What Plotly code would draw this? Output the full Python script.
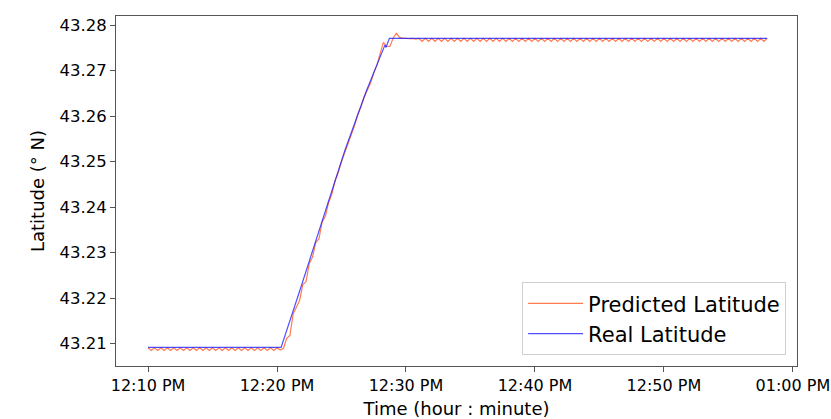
import plotly.graph_objects as go
import pandas as pd

# real latitude, piecewise breakpoints (time, deg N)
real_time = ["2023-01-01 12:10:00", "2023-01-01 12:20:19", "2023-01-01 12:21:47",
             "2023-01-01 12:24:20", "2023-01-01 12:25:16", "2023-01-01 12:26:57",
             "2023-01-01 12:28:22", "2023-01-01 12:28:27", "2023-01-01 12:28:43",
             "2023-01-01 12:58:00"]
real_lat = [43.2092, 43.2092, 43.2218, 43.2444, 43.2525, 43.2657,
            43.2756, 43.2751, 43.2771, 43.2771]

# predicted latitude, one value every 15 s from 12:10:00
pred_lat = [
    43.2091, 43.2085, 43.2091, 43.2085, 43.2091, 43.2085, 43.2091, 43.2085, 43.2091, 43.2085,
    43.2091, 43.2085, 43.2091, 43.2085, 43.2091, 43.2085, 43.2091, 43.2085, 43.2091, 43.2085,
    43.2091, 43.2085, 43.2091, 43.2085, 43.2091, 43.2085, 43.2091, 43.2085, 43.2091, 43.2085,
    43.2091, 43.2085, 43.2091, 43.2085, 43.2091, 43.2085, 43.2091, 43.2085, 43.2091, 43.2085,
    43.2091, 43.2086,
    43.2090, 43.2112, 43.2118, 43.2165, 43.2180, 43.2195, 43.2230, 43.2236, 43.2276, 43.2290,
    43.2322, 43.2330, 43.2368, 43.2380, 43.2410, 43.2428, 43.2458, 43.2476, 43.2500, 43.2520,
    43.2540, 43.2562, 43.2578, 43.2603, 43.2620, 43.2642, 43.2656, 43.2672, 43.2695, 43.2712,
    43.2738, 43.2762, 43.2753, 43.2753, 43.2771, 43.2782, 43.2773, 43.2771,
    43.2771, 43.2770, 43.2771, 43.2769, 43.2771, 43.2764, 43.2771, 43.2764, 43.2771, 43.2764,
    43.2771, 43.2764, 43.2771, 43.2764, 43.2771, 43.2764, 43.2771, 43.2764, 43.2771, 43.2764,
    43.2771, 43.2764, 43.2771, 43.2764, 43.2771, 43.2764, 43.2771, 43.2764, 43.2771, 43.2764,
    43.2771, 43.2764, 43.2771, 43.2764, 43.2771, 43.2764, 43.2771, 43.2764, 43.2771, 43.2764,
    43.2771, 43.2764, 43.2771, 43.2764, 43.2771, 43.2764, 43.2771, 43.2764, 43.2771, 43.2764,
    43.2771, 43.2764, 43.2771, 43.2764, 43.2771, 43.2764, 43.2771, 43.2764, 43.2771, 43.2764,
    43.2771, 43.2764, 43.2771, 43.2764, 43.2771, 43.2764, 43.2771, 43.2764, 43.2771, 43.2764,
    43.2771, 43.2764, 43.2771, 43.2764, 43.2771, 43.2764, 43.2771, 43.2764, 43.2771, 43.2764,
    43.2771, 43.2764, 43.2771, 43.2764, 43.2771, 43.2764, 43.2771, 43.2764, 43.2771, 43.2764,
    43.2771, 43.2764, 43.2771, 43.2764, 43.2771, 43.2764, 43.2771, 43.2764, 43.2771, 43.2764,
    43.2771, 43.2764, 43.2771, 43.2764, 43.2771, 43.2764, 43.2771, 43.2764, 43.2771, 43.2764,
    43.2771, 43.2764, 43.2771,
]
pred_time = pd.date_range("2023-01-01 12:10:00", periods=len(pred_lat), freq="15s")

x_ticks = ["2023-01-01 12:10", "2023-01-01 12:20", "2023-01-01 12:30",
           "2023-01-01 12:40", "2023-01-01 12:50", "2023-01-01 13:00"]
x_tick_text = ["12:10 PM", "12:20 PM", "12:30 PM", "12:40 PM", "12:50 PM", "01:00 PM"]
y_ticks = [43.21, 43.22, 43.23, 43.24, 43.25, 43.26, 43.27, 43.28]

fig = go.Figure()
fig.add_trace(go.Scatter(x=pred_time, y=pred_lat, mode="lines", name="Predicted Latitude",
                         line=dict(color="rgba(255,100,50,0.85)", width=1.2)))
fig.add_trace(go.Scatter(x=real_time, y=real_lat, mode="lines", name="Real Latitude",
                         line=dict(color="rgba(20,20,255,0.75)", width=1.2)))

axis_common = dict(showgrid=False, zeroline=False, showline=True, linecolor="#555",
                   linewidth=1, mirror=True, ticks="outside", ticklen=5, tickcolor="#555",
                   automargin=False, ticklabeloverflow="allow")

fig.update_layout(
    width=831, height=419,
    margin=dict(l=116, r=34, t=16, b=53),
    plot_bgcolor="white", paper_bgcolor="white",
    font=dict(family="DejaVu Sans", color="black"),
    xaxis=dict(axis_common, range=["2023-01-01 12:07:31", "2023-01-01 13:00:19"],
               tickvals=x_ticks, ticktext=x_tick_text, tickfont=dict(size=16),
               title=dict(text="Time (hour : minute)", font=dict(size=18), standoff=8)),
    yaxis=dict(axis_common, range=[43.2051, 43.2820], tickvals=y_ticks,
               tickformat=".2f", tickfont=dict(size=16.5),
               title=dict(text="Latitude (° N)", font=dict(size=18), standoff=10)),
    legend=dict(x=0.984, y=0.031, xanchor="right", yanchor="bottom",
                bgcolor="rgba(255,255,255,0.8)", bordercolor="#d0d0d0", borderwidth=1,
                font=dict(size=21), itemwidth=55),
    showlegend=True,
)

# drop the default page margin so the figure sits at the window's corner
fig.write_html("out.html", config={"displayModeBar": False},
               post_script="document.body.style.margin='0';")
